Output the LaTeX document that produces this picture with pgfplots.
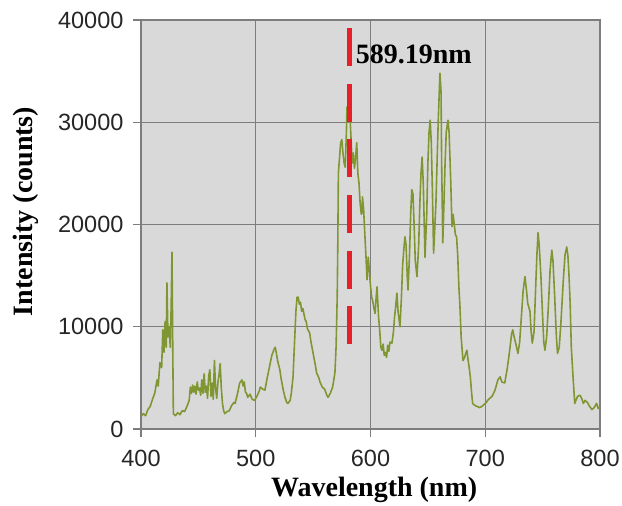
\documentclass[border=0pt]{standalone}
\usepackage{pgfplots}
\pgfplotsset{compat=1.18}
\usepackage{fontspec}
\setmainfont{Liberation Sans}
\newfontfamily\tnr{Liberation Serif}
\definecolor{bggray}{RGB}{217,217,217}
\definecolor{gridgray}{RGB}{125,125,125}
\definecolor{olive}{RGB}{128,150,50}
\definecolor{dashred}{RGB}{232,30,40}
\pgfplotstableread{
x y
400 1200
402 1500
404 1300
406 1900
408 2200
410 2900
412 3500
414 4800
415 4200
416.5 6500
418 6000
419 9700
420 7500
421 10500
422 8000
422.6 14300
423.5 9000
424.5 10000
425.5 8000
426.3 12000
427 17300
427.6 9000
428.2 1500
430 1300
432 1600
434 1400
436 1800
438 1700
440 2200
442 2800
443 4100
444 3500
445 4300
446 3600
447 4200
448 3400
449 4600
450 3800
451 4000
452 3300
453 4800
454 3500
455 5400
456 3600
457 4200
458 3000
459 5200
460 5800
461 3200
462 4500
463 2900
464 6700
465 4000
466 3000
467 4500
468 5300
469 6400
470 4000
471 2500
472 1800
473 1500
475 1700
477 1800
479 2300
481 2600
482 2500
484 3400
486 4500
488 4800
489 4200
490 4600
491 3600
492 3500
493 3100
495 3400
497 2900
499 2800
501 3200
503 3700
504 4100
506 3900
508 3800
510 5000
512 6100
514 7200
516 7800
517 8000
518 7400
519 6700
521 5800
522 5000
524 3800
525.5 3100
527 2600
528 2500
530 2800
531 3500
532.5 5100
534 9000
535 11500
536 12900
537 12900
538 12200
539 12400
540 11500
541 11800
543 10700
544 10500
545 9800
547 9400
548 8600
550 7400
552 6200
553 5500
555 5000
556 4600
558 4100
560 3900
562 3300
563 3100
565 3500
567 4100
569 5500
570 8000
571 13000
571.5 18000
572 25000
573 26500
574 28000
575 28300
576 27000
577 26000
578 25600
579 29000
579.5 31500
580 30500
580.7 32500
581.5 31000
582 30900
583 28500
584 26000
585 27000
586 25500
587 26500
588 28000
589 25000
590 24000
591 22000
592 21000
592.5 21100
593 22700
594 21500
595 19200
596 17000
597 14600
598 16800
599 15500
600 14000
601 12900
602 12500
603 11800
604 11300
605 13000
605.7 13900
607 11000
608 9700
609 8000
610 7700
611 8300
612 7200
613 7500
614 7000
615 8200
616 7600
617 8500
618.7 8400
620 9500
621 11000
622 12000
623 13300
624 11500
625.7 10000
627 13000
628 16000
629 17500
630 18800
631 18000
632 15000
632.7 13600
634 17000
635 21000
636 23400
637 23000
638 20000
639 16500
640.5 14900
642 18000
643 22000
644 25000
645 26600
646 24000
647.5 16800
649 21000
650 26000
651 29000
652 30200
653 28000
654 23000
655 17200
657 22000
659 30000
660.5 34800
661.5 33000
662 26000
663 18200
664 22000
665 26000
666 29000
667.5 30200
668.5 29000
670 24000
671 19800
672 21000
673 20000
674 19000
675 18800
676 17000
677 14000
678 11900
679 9000
680.6 6700
682 7000
683 7400
684 7700
685 6800
686 6000
687 5100
688 3700
689 2500
691 2300
693 2200
695 2100
697 2200
699 2400
701 2600
702 2800
704 3000
706 3200
708.5 3800
710 4400
711 4800
713 5100
714.5 4600
717 4500
719 5800
720.5 7000
721.6 8000
723 9300
724 9700
725 9100
726.5 8400
728.5 7400
730 8500
731.5 11000
733 13500
734.6 14900
736 13500
737 12300
739 11500
740 9500
741 8400
742.5 9500
744 14000
745 17000
746 19200
747 18000
748.5 15000
750 11000
751 8500
752 7700
753.5 9000
755 12000
756.5 15500
758 17500
759 16500
760.5 13000
762 9000
763 7400
764.5 8000
766 10500
768 14500
769.5 17000
771 17800
772 17000
773 15000
774 12300
775 8000
776.5 5100
778 2500
779 2800
780.5 3200
782.6 3300
784 3000
785.5 2500
787 2800
789 2600
791 2200
793 1900
795 2100
797 2500
798.5 2000
800 2200
}\spectrum
\begin{document}
\begin{tikzpicture}
\useasboundingbox (-141pt,-77pt) rectangle (481pt,429pt);
\begin{axis}[
  at={(0,0)}, anchor=south west,
  scale only axis, width=459pt, height=409pt,
  xmin=400, xmax=800, ymin=0, ymax=40000,
  xtick={400,500,600,700,800},
  ytick={0,10000,20000,30000,40000},
  xtick pos=bottom, ytick pos=left,
  scaled y ticks=false,
  /pgf/number format/assume math mode=true,
  yticklabel={\pgfmathprintnumber[fixed,1000 sep={}]{\tick}},
  xticklabel={\pgfmathprintnumber[fixed,1000 sep={}]{\tick}},
  tick label style={font=\fontsize{23.5}{26}\selectfont, text=black!85},
  yticklabel style={xshift=-6pt},
  xticklabel style={yshift=-10pt},
  tick align=outside, major tick length=8pt,
  tick style={gridgray, line width=1.2pt},
  grid=major, major grid style={gridgray, line width=1.3pt},
  axis line style={gridgray, line width=1.3pt},
  axis background/.style={fill=bggray},
  xlabel={\tnr\bfseries Wavelength (nm)},
  ylabel={\tnr\bfseries Intensity (counts)},
  label style={font=\fontsize{28}{30}\selectfont},
  xlabel style={at={(axis description cs:0.508,-0.149)}, anchor=center},
  ylabel style={at={(axis description cs:-0.25,0.532)}, anchor=center, rotate=0},
]
\addplot[olive, line width=1.6pt, line join=round] table[x=x,y=y]{\spectrum};
\addplot[dashred, line width=5pt, dash pattern=on 38pt off 17.6pt] coordinates {(582,39200) (582,7900)};
\node[anchor=west, font=\tnr\bfseries\fontsize{28}{30}\selectfont, inner sep=0pt] at (axis cs:587,36600) {589.19nm};
\end{axis}
\end{tikzpicture}
\end{document}
